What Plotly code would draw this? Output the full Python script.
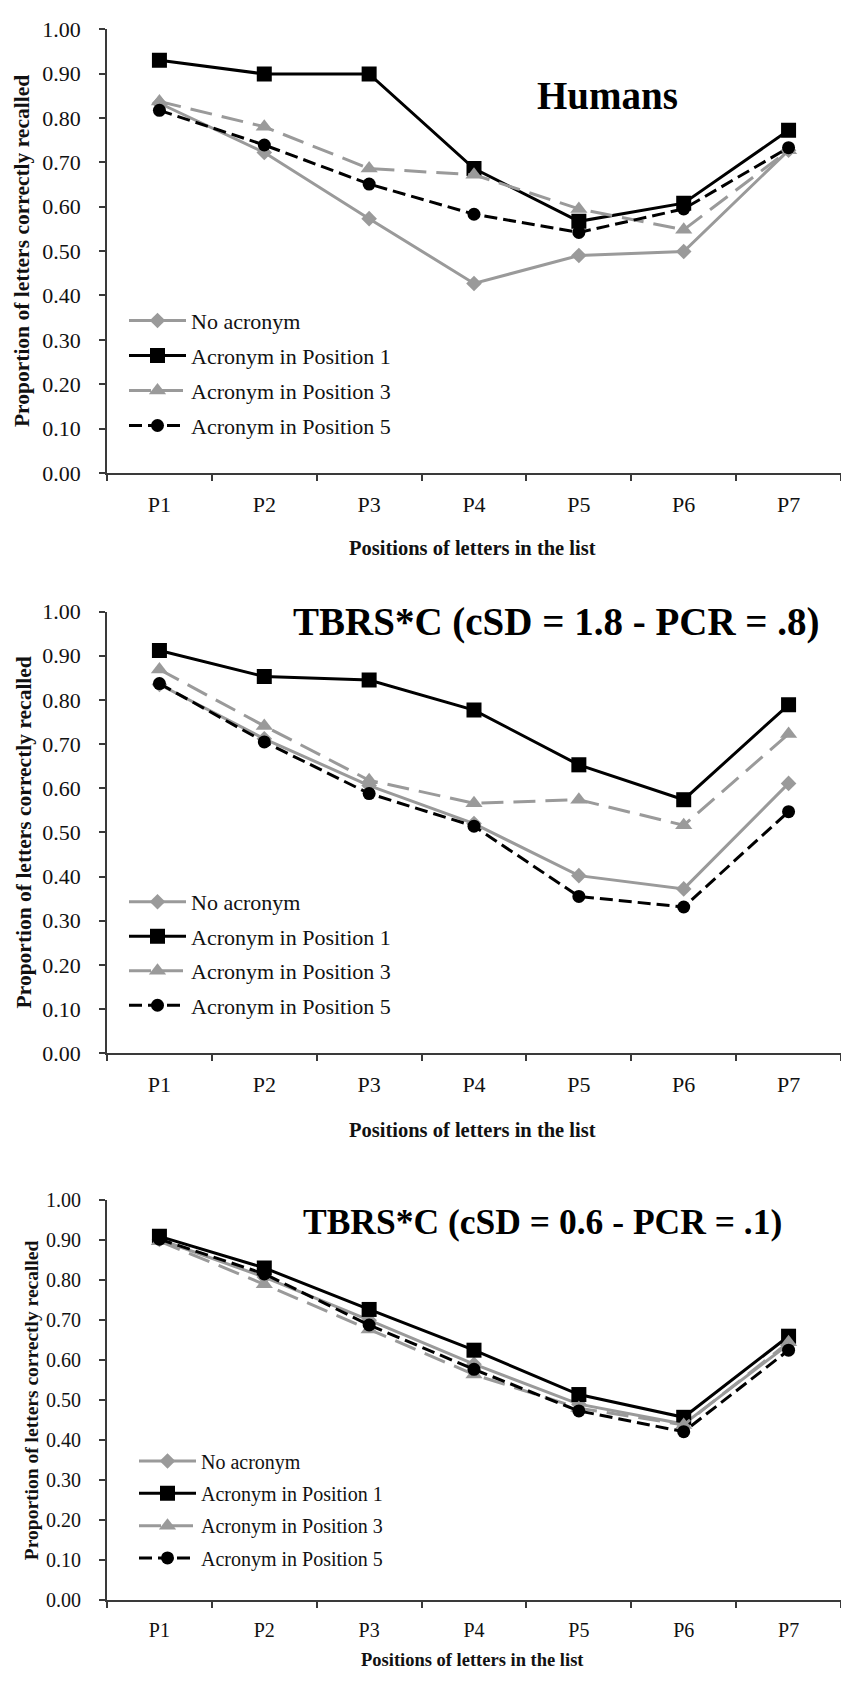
import plotly.graph_objects as go

# Serial positions of the letters
positions = ["P1", "P2", "P3", "P4", "P5", "P6", "P7"]
series_names = ["No acronym", "Acronym in Position 1",
                "Acronym in Position 3", "Acronym in Position 5"]
y_ticks = [0.0, 0.1, 0.2, 0.3, 0.4, 0.5, 0.6, 0.7, 0.8, 0.9, 1.0]

# Humans
humans_none = [0.833, 0.722, 0.573, 0.427, 0.490, 0.499, 0.727]
humans_pos1 = [0.930, 0.899, 0.899, 0.686, 0.567, 0.608, 0.772]
humans_pos3 = [0.837, 0.780, 0.686, 0.672, 0.595, 0.548, 0.727]
humans_pos5 = [0.817, 0.739, 0.651, 0.583, 0.542, 0.595, 0.733]

# TBRS*C, cSD = 1.8, PCR = .8
tbrs_a_none = [0.835, 0.712, 0.606, 0.520, 0.402, 0.372, 0.611]
tbrs_a_pos1 = [0.912, 0.853, 0.845, 0.777, 0.653, 0.574, 0.789]
tbrs_a_pos3 = [0.869, 0.741, 0.618, 0.566, 0.574, 0.516, 0.723]
tbrs_a_pos5 = [0.837, 0.705, 0.588, 0.514, 0.355, 0.331, 0.547]

# TBRS*C, cSD = 0.6, PCR = .1
tbrs_b_none = [0.902, 0.808, 0.700, 0.590, 0.490, 0.440, 0.640]
tbrs_b_pos1 = [0.910, 0.831, 0.727, 0.625, 0.514, 0.457, 0.660]
tbrs_b_pos3 = [0.898, 0.790, 0.677, 0.564, 0.480, 0.438, 0.645]
tbrs_b_pos5 = [0.903, 0.816, 0.688, 0.577, 0.473, 0.421, 0.625]

W, H = 841, 1692
FONT = "Liberation Serif, Times New Roman, serif"
GRAY = "#9a9a9a"
BLACK = "#000000"
AXIS = "#3a3a3a"

line_styles = [
    dict(color=GRAY, dash="solid", symbol="diamond", size=12),
    dict(color=BLACK, dash="solid", symbol="square", size=15),
    dict(color=GRAY, dash="22px,10px", symbol="triangle-up", size=15),
    dict(color=BLACK, dash="13px,6px", symbol="circle", size=13),
]

def py(px):
    """pixel row -> paper y"""
    return 1 - px / H

def pxx(px):
    """pixel column -> paper x"""
    return px / W

panels = [
    dict(series=[humans_none, humans_pos1, humans_pos3, humans_pos5],
         top=17.4, bottom=467.9, title="Humans", title_x=607, title_y=85,
         title_size=39, font=22, ytitle_x=22, xtitle_y=544, legend_top=292,
         legend_x=124, legend_gap=3.4, tick_gap=11),
    dict(series=[tbrs_a_none, tbrs_a_pos1, tbrs_a_pos3, tbrs_a_pos5],
         top=608.6, bottom=1056.8, title="TBRS*C (cSD = 1.8 - PCR = .8)",
         title_x=556, title_y=619, title_size=39, font=22, ytitle_x=24,
         xtitle_y=1135, legend_top=882, legend_x=124, legend_gap=2.9,
         tick_gap=11),
    dict(series=[tbrs_b_none, tbrs_b_pos1, tbrs_b_pos3, tbrs_b_pos5],
         top=1206.2, bottom=1611.7, title="TBRS*C (cSD = 0.6 - PCR = .1)",
         title_x=542, title_y=1228, title_size=35.5, font=20, ytitle_x=31,
         xtitle_y=1673, legend_top=1451, legend_x=134, legend_gap=3.3,
         tick_gap=11),
]

fig = go.Figure()
annotations = []
layout = {}

for i, p in enumerate(panels, start=1):
    sfx = "" if i == 1 else str(i)
    leg = "legend" if i == 1 else f"legend{i}"
    for k, (name, vals, st) in enumerate(zip(series_names, p["series"], line_styles)):
        fig.add_trace(go.Scatter(
            x=positions, y=vals, name=name, mode="lines+markers",
            xaxis=f"x{sfx}", yaxis=f"y{sfx}", legend=leg,
            legendgroup=f"panel{i}_series{k}",
            line=dict(color=st["color"], width=3, dash=st["dash"]),
            marker=dict(symbol=st["symbol"], size=st["size"], color=st["color"],
                        line=dict(width=0)),
            hoverinfo="skip",
        ))
    layout[f"xaxis{sfx}"] = dict(
        domain=[pxx(107), 1.0], anchor=f"y{sfx}", type="category",
        range=[-0.5, 6.5], tickson="boundaries", ticks="outside", ticklen=6,
        tickwidth=1.5, tickcolor=AXIS, showline=True, linecolor=AXIS,
        linewidth=1.8, showgrid=False, zeroline=False,
        tickfont=dict(family=FONT, size=p["font"], color="#111"),
        ticklabelstandoff=p["tick_gap"],
    )
    layout[f"yaxis{sfx}"] = dict(
        domain=[py(p["bottom"]), py(p["top"])], anchor=f"x{sfx}",
        range=[0, 1], tickvals=y_ticks, tickformat=".2f", ticks="outside",
        ticklen=6, tickwidth=1.5, tickcolor=AXIS, showline=True,
        linecolor=AXIS, linewidth=1.8, showgrid=False, zeroline=False,
        tickfont=dict(family=FONT, size=p["font"], color="#111"),
        ticklabelstandoff=14,
    )
    layout[leg] = dict(
        x=pxx(p["legend_x"]), xanchor="left", y=py(p["legend_top"]),
        yanchor="top", bgcolor="rgba(0,0,0,0)", borderwidth=0,
        font=dict(family=FONT, size=p["font"], color="#111"),
        itemwidth=57, traceorder="grouped", tracegroupgap=p["legend_gap"],
    )
    annotations.append(dict(
        text=f"<b>{p['title']}</b>", xref="paper", yref="paper",
        x=pxx(p["title_x"]), y=py(p["title_y"]), xanchor="center",
        yanchor="middle", showarrow=False,
        font=dict(family=FONT, size=p["title_size"], color="#000"),
    ))
    annotations.append(dict(
        text="<b>Proportion of letters correctly recalled</b>", xref="paper",
        yref="paper", x=pxx(p["ytitle_x"]),
        y=py((p["top"] + p["bottom"]) / 2), textangle=-90, xanchor="center",
        yanchor="middle", showarrow=False,
        font=dict(family=FONT, size=p["font"] - 0.5, color="#111"),
    ))
    annotations.append(dict(
        text="<b>Positions of letters in the list</b>", xref="paper",
        yref="paper", x=pxx(472), y=py(p["xtitle_y"]), xanchor="center",
        yanchor="middle", showarrow=False,
        font=dict(family=FONT, size=p["font"] - 1.5, color="#111"),
    ))

fig.update_layout(
    width=W, height=H, margin=dict(l=0, r=0, t=0, b=0),
    paper_bgcolor="white", plot_bgcolor="white",
    annotations=annotations, showlegend=True, **layout,
)

fig.write_html("out.html")
